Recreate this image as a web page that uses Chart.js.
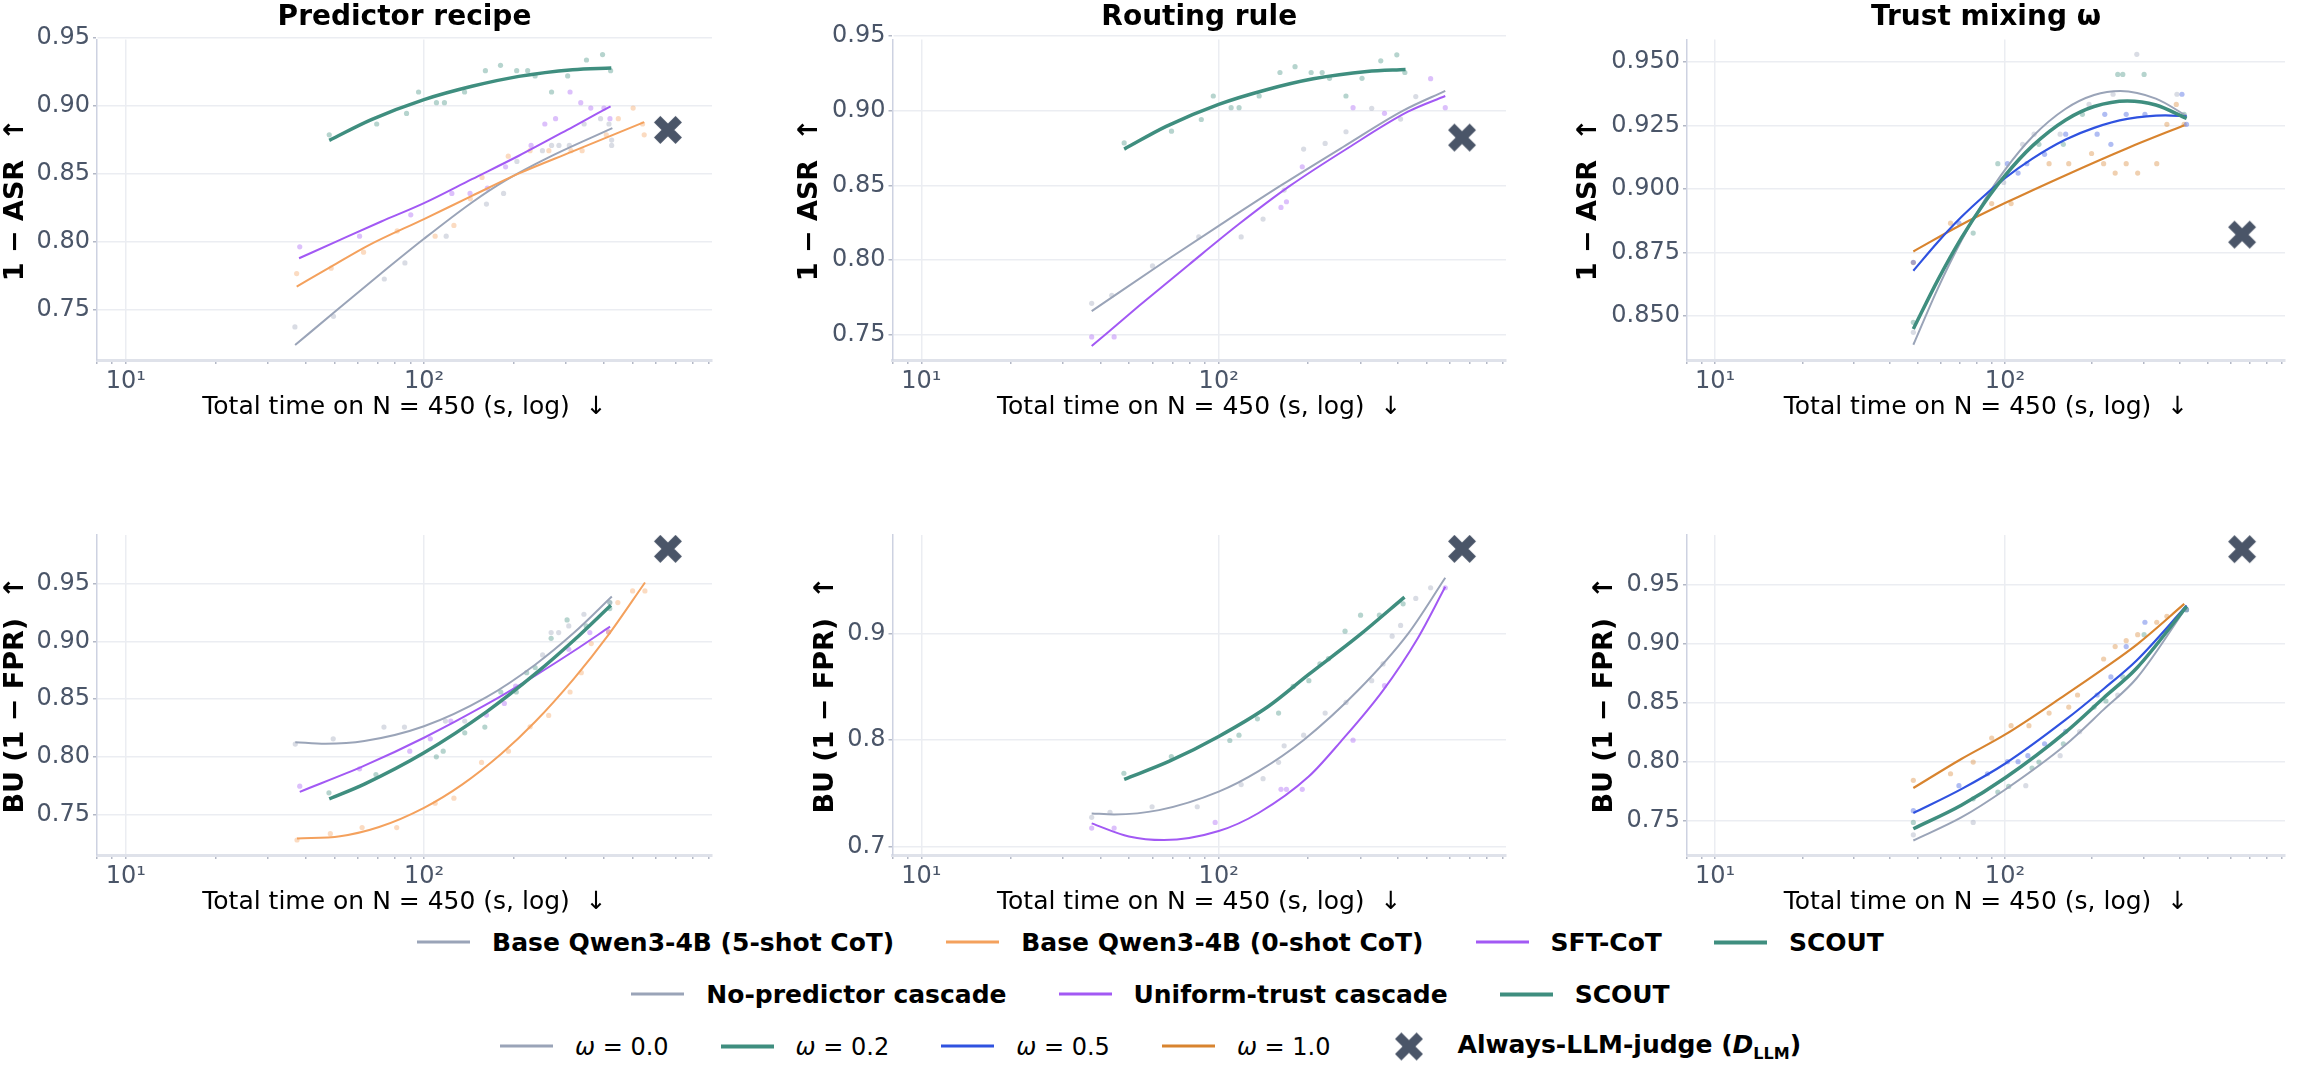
<!DOCTYPE html>
<html>
<head>
    <title>SCOUT cost / quality trade-off</title>
    <script src="https://cdn.jsdelivr.net/npm/chart.js"></script>
    <style>
        body { margin: 0; background: #fff; font-family: 'DejaVu Sans', sans-serif; }
        #fig { position: relative; width: 2301px; height: 1075px; overflow: hidden; }
        #fig canvas.panel { position: absolute; }
        .lrow { position: absolute; left: 0; width: 2301px; display: flex; justify-content: center;
                align-items: center; transform: translateY(-50%); font-size: 25px; color: #000; }
        .it { display: flex; align-items: center; margin: 0 26px; white-space: nowrap; }
        .sw { display: inline-block; width: 53px; margin-right: 22px; }
        .b { font-weight: bold; }
        .w { font-size: 24px; }
    </style>
</head>
<body>
<div id="fig">
    <canvas class="panel" id="pRecipeAsr"></canvas>
    <canvas class="panel" id="pRoutingAsr"></canvas>
    <canvas class="panel" id="pTrustAsr"></canvas>
    <canvas class="panel" id="pRecipeBu"></canvas>
    <canvas class="panel" id="pRoutingBu"></canvas>
    <canvas class="panel" id="pTrustBu"></canvas>

    <div class="lrow b" style="top:942px">
        <span class="it"><span class="sw" style="height:2.5px;background:#9aa4b8"></span>Base Qwen3-4B (5-shot CoT)</span>
        <span class="it"><span class="sw" style="height:2.5px;background:#f4a15d"></span>Base Qwen3-4B (0-shot CoT)</span>
        <span class="it"><span class="sw" style="height:2.5px;background:#a259f4"></span>SFT-CoT</span>
        <span class="it"><span class="sw" style="height:4px;background:#3f8e7f"></span>SCOUT</span>
    </div>
    <div class="lrow b" style="top:994px">
        <span class="it"><span class="sw" style="height:2.5px;background:#9aa4b8"></span>No-predictor cascade</span>
        <span class="it"><span class="sw" style="height:2.5px;background:#a259f4"></span>Uniform-trust cascade</span>
        <span class="it"><span class="sw" style="height:4px;background:#3f8e7f"></span>SCOUT</span>
    </div>
    <div class="lrow" style="top:1046px">
        <span class="it w"><span class="sw" style="height:2.5px;background:#9aa4b8"></span><i>ω</i>&nbsp;=&nbsp;0.0</span>
        <span class="it w"><span class="sw" style="height:4px;background:#3f8e7f"></span><i>ω</i>&nbsp;=&nbsp;0.2</span>
        <span class="it w"><span class="sw" style="height:2.5px;background:#2f52e0"></span><i>ω</i>&nbsp;=&nbsp;0.5</span>
        <span class="it w"><span class="sw" style="height:2.5px;background:#d8842f"></span><i>ω</i>&nbsp;=&nbsp;1.0</span>
        <span class="it"><span class="sw" style="height:30px;display:flex;justify-content:center"><canvas id="legendX" width="30" height="30"></canvas></span><span class="b">Always-LLM-judge (<i>D</i><sub style="font-size:16px">LLM</sub>)</span></span>
    </div>
</div>

<script>
    // ---- x axis (log seconds on N = 450) ----
    const xMin = 8, xMax = 925;
    const xTickVals = [8, 9, 10, 20, 30, 40, 50, 60, 70, 80, 90, 100, 200, 300, 400, 500, 600, 700, 800, 900];
    const xTickText = { 10: '10¹', 100: '10²' };

    // Always-LLM-judge reference point
    const llmJudgeTime = 658;
    const llmJudgeAsr = 0.882;
    const llmJudgeBu = 0.980;

    // ---- Predictor recipe, 1 - ASR ----
    const recipeAsrBase5Fit = [[36.95, 0.724], [51.4, 0.7502], [71.9, 0.7767], [100, 0.802], [144.8, 0.8287], [187.8, 0.8449], [263, 0.862], [428.5, 0.8833]];
    const recipeAsrBase0Fit = [[37.4, 0.7669], [48.8, 0.7815], [64.9, 0.797], [100, 0.8165], [144.8, 0.8335], [208.3, 0.85], [315.4, 0.8662], [547.9, 0.8877]];
    const recipeAsrSftFit = [[38.1, 0.7877], [51.4, 0.8005], [71.9, 0.8147], [100, 0.8282], [144.8, 0.8458], [208, 0.863], [315, 0.8841], [422.6, 0.8993]];
    const scoutAsrFit = [[48.1, 0.8743], [66.6, 0.8895], [100, 0.9042], [144.8, 0.914], [208, 0.9213], [315, 0.9262], [425, 0.9275]];
    const recipeAsrBase5Runs = [[36.9, 0.7373], [49.7, 0.7451], [73.6, 0.7725], [86.3, 0.7843], [118.7, 0.8039], [162, 0.8275], [184.9, 0.8353], [205, 0.8588], [249.7, 0.8667], [267.9, 0.8706], [283.6, 0.8706], [307.3, 0.8706], [344.5, 0.8863], [391.2, 0.8902], [417.4, 0.8863], [426.1, 0.8745], [426.1, 0.8706]];
    const recipeAsrBase0Runs = [[37.4, 0.7765], [48.8, 0.7804], [62.7, 0.7922], [81.3, 0.8078], [109, 0.8039], [126, 0.8118], [143, 0.8314], [156.6, 0.8471], [191.7, 0.8627], [226.9, 0.8667], [262.4, 0.8667], [311.3, 0.8667], [339.2, 0.8667], [408.8, 0.8784], [448.7, 0.8902], [503, 0.898], [541, 0.8863], [547.9, 0.8784]];
    const recipeAsrSftRuns = [[38.3, 0.7961], [60.8, 0.8039], [90.3, 0.8196], [124, 0.8353], [142.7, 0.8353], [163.2, 0.8392], [187.8, 0.8549], [228.7, 0.8706], [254.3, 0.8863], [276.3, 0.8902], [309, 0.9098], [335.7, 0.902], [362.7, 0.898], [401.4, 0.898], [420.6, 0.8902]];
    const scoutAsrRuns = [[48.1, 0.8784], [69.4, 0.8863], [87.4, 0.8941], [95.9, 0.9098], [110.1, 0.902], [117.1, 0.902], [136.8, 0.9098], [160.7, 0.9255], [180.6, 0.9294], [204.6, 0.9255], [222.8, 0.9255], [235.9, 0.9216], [267.9, 0.9098], [303.4, 0.9216], [350.8, 0.9333], [397.2, 0.9373], [422.7, 0.9255]];

    // ---- Routing rule, 1 - ASR ----
    const routingAsrNoPredFit = [[37.4, 0.766], [66.8, 0.80], [100, 0.823], [162, 0.85], [262, 0.8757], [417, 0.90], [578, 0.9132]];
    const routingAsrUniformFit = [[37.4, 0.7426], [54, 0.7695], [79.4, 0.797], [116.7, 0.824], [173, 0.8495], [273, 0.8752], [433, 0.8993], [578, 0.9098]];
    const routingAsrNoPredRuns = [[37.4, 0.7712], [43.7, 0.7766], [59.9, 0.7962], [85.7, 0.8156], [119, 0.8156], [141, 0.8275], [166, 0.8469], [193, 0.8743], [228, 0.8781], [268, 0.8859], [327, 0.9016], [409, 0.8944], [460, 0.9094]];
    const routingAsrUniformRuns = [[37.4, 0.7487], [44.5, 0.7487], [162, 0.8353], [169, 0.8391], [191, 0.8625], [283, 0.902], [361, 0.8982], [516, 0.9214], [578, 0.902]];

    // ---- Trust mixing, 1 - ASR ----
    const trustAsrW0Fit = [[48.3, 0.8387], [58.6, 0.8607], [70.7, 0.8796], [85.4, 0.8959], [100, 0.9075], [124.4, 0.9205], [162, 0.9315], [203, 0.9369], [250, 0.9385], [331.6, 0.9355], [423.5, 0.9287]];
    const trustAsrW02Fit = [[48.3, 0.8449], [58.6, 0.864], [70.7, 0.8806], [85.4, 0.8949], [100, 0.9052], [124.4, 0.9169], [162, 0.9271], [203, 0.9324], [264.4, 0.9346], [331.6, 0.933], [423.5, 0.9277]];
    const trustAsrW05Fit = [[48.3, 0.8678], [58.6, 0.879], [70.7, 0.8889], [85.4, 0.8976], [100, 0.9042], [124.4, 0.9119], [162, 0.9194], [203, 0.924], [264.4, 0.9275], [357.5, 0.9289], [423.5, 0.9285]];
    const trustAsrW1Fit = [[48.3, 0.8754], [70.7, 0.8859], [100, 0.8944], [162, 0.9054], [264.4, 0.916], [415.6, 0.925]];
    const trustAsrW0Runs = [[48.3, 0.8436], [99, 0.9025], [115, 0.9175], [126, 0.9215], [155, 0.9215], [195, 0.9332], [236, 0.9372], [285, 0.9529], [392, 0.9372]];
    const trustAsrW02Runs = [[48.3, 0.8475], [77.7, 0.8826], [94.5, 0.9099], [131, 0.9175], [159, 0.9175], [185, 0.9293], [245, 0.945], [255, 0.945], [302, 0.945], [415, 0.9293]];
    const trustAsrW05Runs = [[48.3, 0.8711], [69.4, 0.8865], [102, 0.9099], [111, 0.9062], [119, 0.9099], [137, 0.9136], [162, 0.9215], [208, 0.9215], [221, 0.9293], [232, 0.9175], [262, 0.9293], [304, 0.9293], [408, 0.9372], [423, 0.9254]];
    const trustAsrW1Runs = [[48.3, 0.871], [64.9, 0.8865], [90, 0.8942], [105, 0.8942], [142, 0.9099], [166, 0.9099], [199, 0.9139], [219, 0.9099], [240, 0.9062], [262, 0.9099], [287, 0.9062], [334, 0.9099], [362, 0.9254], [390, 0.9332], [415, 0.9254]];

    // ---- Predictor recipe, BU (1 - FPR) ----
    const recipeBuBase5Fit = [[37, 0.8127], [46.7, 0.8113], [63.1, 0.8136], [100, 0.8264], [162, 0.8516], [236, 0.8797], [319, 0.9075], [426.7, 0.9387]];
    const recipeBuBase0Fit = [[37.5, 0.7292], [52.3, 0.7312], [70.7, 0.7392], [100, 0.7558], [134.2, 0.7759], [181.4, 0.8024], [236, 0.8303], [319, 0.8679], [415.6, 0.9055], [551.3, 0.9509]];
    const recipeBuSftFit = [[38.3, 0.7697], [63.1, 0.7923], [100, 0.8165], [162, 0.8453], [236, 0.8703], [319, 0.8918], [421, 0.9127]];
    const recipeBuScoutFit = [[48.1, 0.7636], [63.1, 0.7764], [100, 0.8035], [162, 0.8389], [236, 0.8717], [319, 0.9011], [423.5, 0.9312]];
    const recipeBuBase5Runs = [[37, 0.811], [49.6, 0.8156], [73.4, 0.8257], [86, 0.8257], [118, 0.8309], [137, 0.8309], [250, 0.8882], [267, 0.9075], [283, 0.9075], [306, 0.9133], [344, 0.9234], [420, 0.9335]];
    const recipeBuBase0Runs = [[37.5, 0.728], [48.5, 0.7335], [62, 0.7387], [81, 0.7387], [109, 0.7598], [126, 0.7642], [156, 0.7951], [192, 0.8049], [227, 0.826], [262, 0.8358], [309, 0.8561], [337, 0.8728], [364, 0.898], [416, 0.9081], [447, 0.9335], [501, 0.9436], [551, 0.9436]];
    const recipeBuSftRuns = [[38.3, 0.7746], [60.8, 0.7896], [89.6, 0.8049], [105, 0.8156], [123, 0.8309], [162, 0.8361], [186, 0.8462], [203, 0.8613], [306, 0.8931], [360, 0.9075], [416, 0.9081]];
    const recipeBuScoutRuns = [[48, 0.7688], [69, 0.7847], [110, 0.8], [116, 0.8049], [137, 0.8208], [160, 0.8257], [181, 0.8561], [204, 0.8561], [221, 0.8728], [236, 0.8772], [267, 0.9026], [302, 0.9185], [350, 0.9133], [420, 0.9335], [420, 0.9283]];

    // ---- Routing rule, BU (1 - FPR) ----
    const routingBuScoutFit = [[48.1, 0.7632], [68, 0.78], [100, 0.8035], [147.1, 0.8319], [200.3, 0.8616], [294.4, 0.8978], [421.5, 0.9346]];
    const routingBuNoPredFit = [[37.4, 0.7311], [44.5, 0.7302], [63, 0.7342], [100, 0.7516], [136.2, 0.7709], [192.7, 0.80], [294.4, 0.8469], [433, 0.90], [578, 0.9528]];
    const routingBuUniformFit = [[37.4, 0.7217], [49.9, 0.7094], [65.4, 0.706], [100, 0.7145], [136.2, 0.7315], [200.3, 0.7655], [257.3, 0.7987], [357.1, 0.8469], [467.7, 0.8962], [578, 0.9443]];
    const routingBuScoutRuns = [[48, 0.7689], [69.3, 0.7846], [109, 0.7997], [117, 0.8047], [135, 0.8201], [159, 0.8255], [178, 0.8506], [201, 0.856], [219, 0.8717], [234, 0.8767], [266, 0.9025], [300, 0.9176], [347, 0.9176], [417, 0.9283]];
    const routingBuNoPredRuns = [[37.4, 0.7274], [43.1, 0.7321], [59.7, 0.7374], [84.7, 0.7374], [119, 0.7582], [141, 0.7638], [159, 0.7792], [166, 0.7947], [193, 0.8047], [228, 0.8255], [268, 0.8355], [327, 0.856], [357, 0.8717], [383, 0.8978], [409, 0.9079], [460, 0.9333], [516, 0.9434]];
    const routingBuUniformRuns = [[37.4, 0.7173], [44.5, 0.7173], [97.3, 0.7226], [162, 0.7538], [169, 0.7538], [191, 0.7538], [283, 0.8], [361, 0.8513], [578, 0.9434]];

    // ---- Trust mixing, BU (1 - FPR) ----
    const trustBuW1Fit = [[48.3, 0.7777], [70.7, 0.8023], [100, 0.8229], [162, 0.8568], [218.9, 0.8788], [285.1, 0.8992], [415.6, 0.9336]];
    const trustBuW05Fit = [[48.3, 0.7565], [70.7, 0.7768], [100, 0.7983], [162, 0.8356], [218.9, 0.8616], [285.1, 0.8859], [423.5, 0.9322]];
    const trustBuW02Fit = [[48.3, 0.7432], [70.7, 0.7631], [100, 0.7862], [162, 0.8251], [218.9, 0.854], [285.1, 0.8794], [423.5, 0.9316]];
    const trustBuW0Fit = [[48.3, 0.7333], [70.7, 0.7528], [100, 0.7763], [162, 0.8144], [218.9, 0.8441], [285.1, 0.8709], [423.5, 0.9311]];
    const trustBuW1Runs = [[48.3, 0.7842], [64.9, 0.7898], [77.7, 0.7997], [90, 0.82], [105, 0.8305], [121, 0.8305], [142, 0.8412], [166, 0.8463], [178, 0.8565], [219, 0.887], [240, 0.8975], [262, 0.9025], [287, 0.9076], [334, 0.9181], [362, 0.9232]];
    const trustBuW05Runs = [[48.3, 0.7585], [69.4, 0.7797], [87, 0.7898], [102, 0.8], [111, 0.8], [120, 0.8051], [137, 0.8152], [162, 0.8257], [208, 0.8565], [232, 0.8718], [262, 0.8975], [304, 0.9181], [423, 0.9288]];
    const trustBuW02Runs = [[48.3, 0.7486], [77.7, 0.7686], [94.5, 0.7743], [103, 0.7791], [124, 0.7946], [131, 0.7997], [159, 0.8152], [203, 0.8463], [223, 0.8514], [255, 0.8718], [302, 0.9076], [423, 0.9288]];
    const trustBuW0Runs = [[48.3, 0.7381], [77.7, 0.7486], [118, 0.7797], [155, 0.8051], [181, 0.8254], [245, 0.8565], [423, 0.9288]];

    // y ticks per panel
    const yTicksTwoDec = [0.75, 0.80, 0.85, 0.90, 0.95];
    const yTicksTrustAsr = [0.850, 0.875, 0.900, 0.925, 0.950];
    const yTicksRoutingBu = [0.7, 0.8, 0.9];

    const cGray = '#9aa4b8', cOrange = '#f4a15d', cPurple = '#a259f4', cTeal = '#3f8e7f';
    const cBlue = '#2f52e0', cOrangeDark = '#d8842f', cMarker = '#4a5568';

    Chart.defaults.font.family = "'DejaVu Sans', sans-serif";

    function fade(hex, a) {
        const n = parseInt(hex.slice(1), 16);
        return 'rgba(' + (n >> 16) + ',' + ((n >> 8) & 255) + ',' + (n & 255) + ',' + a + ')';
    }

    // filled "X" marker like matplotlib's
    function makeXMarker() {
        const c = document.createElement('canvas');
        c.width = 30; c.height = 30;
        const g = c.getContext('2d');
        g.strokeStyle = cMarker;
        g.lineWidth = 9;
        g.lineCap = 'butt';
        g.beginPath();
        g.moveTo(4.2, 4.2); g.lineTo(25.8, 25.8);
        g.moveTo(25.8, 4.2); g.lineTo(4.2, 25.8);
        g.stroke();
        return c;
    }
    const xMarker = makeXMarker();
    document.getElementById('legendX').getContext('2d').drawImage(xMarker, 0, 0);

    const pts = arr => arr.map(p => ({ x: p[0], y: p[1] }));

    function fit(arr, color, width) {
        return { type: 'line', data: pts(arr), borderColor: color, borderWidth: width, pointRadius: 0,
                 cubicInterpolationMode: 'monotone', fill: false, order: 1 };
    }
    function runs(arr, color) {
        return { type: 'scatter', data: pts(arr), backgroundColor: fade(color, 0.38), borderWidth: 0,
                 pointRadius: 2.6, order: 2 };
    }
    function judge(y) {
        return { type: 'scatter', data: [{ x: llmJudgeTime, y: y }], pointStyle: xMarker, pointRadius: 15, order: 0 };
    }

    function panel(id, p) {
        const el = document.getElementById(id);
        el.width = p.w; el.height = p.h;
        el.style.left = p.left + 'px'; el.style.top = p.top + 'px';
        new Chart(el, {
            type: 'scatter',
            data: { datasets: p.datasets },
            options: {
                responsive: false,
                animation: false,
                devicePixelRatio: 1,
                layout: { padding: { left: 0, right: p.padRight, top: p.padTop, bottom: 0 } },
                plugins: {
                    legend: { display: false },
                    tooltip: { enabled: false },
                    title: {
                        display: !!p.title, text: p.title || '', fullSize: false, color: '#000',
                        font: { size: 28, weight: 'bold' }, padding: { top: 1, bottom: 5 }
                    }
                },
                scales: {
                    x: {
                        type: 'logarithmic', min: xMin, max: xMax,
                        afterBuildTicks: s => { s.ticks = xTickVals.map(v => ({ value: v, major: v === 10 || v === 100 })); },
                        afterFit: s => { s.height = 62; },
                        ticks: { autoSkip: false, maxRotation: 0, color: '#4a5568', font: { size: 24 },
                                 callback: v => xTickText[v] || '' },
                        grid: { color: c => (c.tick && (c.tick.value === 10 || c.tick.value === 100)) ? '#ebedf2' : 'rgba(0,0,0,0)',
                                lineWidth: 1.5, tickLength: 4, tickColor: '#b3b8c6' },
                        border: { color: '#dfe2ea', width: 3 },
                        title: { display: true, text: 'Total time on N = 450 (s, log)  ↓', color: '#000',
                                 font: { size: 25 }, padding: 0 }
                    },
                    y: {
                        min: p.yMin, max: p.yMax,
                        afterBuildTicks: s => { s.ticks = p.yTicks.map(v => ({ value: v })); },
                        afterFit: s => { s.width = p.yW; },
                        ticks: { color: '#4a5568', font: { size: 24 }, callback: v => v.toFixed(p.dec) },
                        grid: { color: '#ebedf2', lineWidth: 1.5, tickLength: 4, tickColor: '#b3b8c6' },
                        border: { color: '#cdd2e1', width: 1.5 },
                        title: { display: true, text: p.yTitle, color: '#000',
                                 font: { size: 27, weight: 'bold' }, padding: 0 }
                    }
                }
            }
        });
    }

    const asrTitle = '1 − ASR  ↑';
    const buTitle = 'BU (1 − FPR)  ↑';

    panel('pRecipeAsr', {
        left: 0, top: 0, w: 729, h: 422, padRight: 17, padTop: 0, yW: 97,
        title: 'Predictor recipe', yTitle: asrTitle, yMin: 0.713, yMax: 0.9483, yTicks: yTicksTwoDec, dec: 2,
        datasets: [
            judge(llmJudgeAsr),
            fit(scoutAsrFit, cTeal, 3.5), fit(recipeAsrSftFit, cPurple, 2), fit(recipeAsrBase0Fit, cOrange, 2), fit(recipeAsrBase5Fit, cGray, 2),
            runs(recipeAsrBase5Runs, cGray), runs(recipeAsrBase0Runs, cOrange), runs(recipeAsrSftRuns, cPurple), runs(scoutAsrRuns, cTeal)
        ]
    });
    panel('pRoutingAsr', {
        left: 794, top: 0, w: 729, h: 422, padRight: 17, padTop: 0, yW: 98.5,
        title: 'Routing rule', yTitle: asrTitle, yMin: 0.7333, yMax: 0.9475, yTicks: yTicksTwoDec, dec: 2,
        datasets: [
            judge(llmJudgeAsr),
            fit(scoutAsrFit, cTeal, 3.5), fit(routingAsrUniformFit, cPurple, 2), fit(routingAsrNoPredFit, cGray, 2),
            runs(routingAsrNoPredRuns, cGray), runs(routingAsrUniformRuns, cPurple), runs(scoutAsrRuns, cTeal)
        ]
    });
    panel('pTrustAsr', {
        left: 1573, top: 0, w: 728, h: 422, padRight: 1, padTop: 0, yW: 114,
        title: 'Trust mixing ω', yTitle: asrTitle, yMin: 0.8327, yMax: 0.9587, yTicks: yTicksTrustAsr, dec: 3,
        datasets: [
            judge(llmJudgeAsr),
            fit(trustAsrW02Fit, cTeal, 3.5), fit(trustAsrW05Fit, cBlue, 2.2), fit(trustAsrW1Fit, cOrangeDark, 2.2), fit(trustAsrW0Fit, cGray, 2),
            runs(trustAsrW0Runs, cGray), runs(trustAsrW02Runs, cTeal), runs(trustAsrW05Runs, cBlue), runs(trustAsrW1Runs, cOrangeDark)
        ]
    });
    panel('pRecipeBu', {
        left: 0, top: 515, w: 729, h: 402, padRight: 17, padTop: 20, yW: 97,
        yTitle: buTitle, yMin: 0.715, yMax: 0.992, yTicks: yTicksTwoDec, dec: 2,
        datasets: [
            judge(llmJudgeBu),
            fit(recipeBuScoutFit, cTeal, 3.5), fit(recipeBuSftFit, cPurple, 2), fit(recipeBuBase0Fit, cOrange, 2), fit(recipeBuBase5Fit, cGray, 2),
            runs(recipeBuBase5Runs, cGray), runs(recipeBuBase0Runs, cOrange), runs(recipeBuSftRuns, cPurple), runs(recipeBuScoutRuns, cTeal)
        ]
    });
    panel('pRoutingBu', {
        left: 810, top: 515, w: 713, h: 402, padRight: 17, padTop: 20, yW: 82.5,
        yTitle: buTitle, yMin: 0.692, yMax: 0.993, yTicks: yTicksRoutingBu, dec: 1,
        datasets: [
            judge(llmJudgeBu),
            fit(routingBuScoutFit, cTeal, 3.5), fit(routingBuUniformFit, cPurple, 2), fit(routingBuNoPredFit, cGray, 2),
            runs(routingBuNoPredRuns, cGray), runs(routingBuUniformRuns, cPurple), runs(routingBuScoutRuns, cTeal)
        ]
    });
    panel('pTrustBu', {
        left: 1589, top: 515, w: 712, h: 402, padRight: 1, padTop: 20, yW: 98,
        yTitle: buTitle, yMin: 0.721, yMax: 0.992, yTicks: yTicksTwoDec, dec: 2,
        datasets: [
            judge(llmJudgeBu),
            fit(trustBuW02Fit, cTeal, 3.5), fit(trustBuW05Fit, cBlue, 2.2), fit(trustBuW1Fit, cOrangeDark, 2.2), fit(trustBuW0Fit, cGray, 2),
            runs(trustBuW0Runs, cGray), runs(trustBuW02Runs, cTeal), runs(trustBuW05Runs, cBlue), runs(trustBuW1Runs, cOrangeDark)
        ]
    });
</script>
</body>
</html>
